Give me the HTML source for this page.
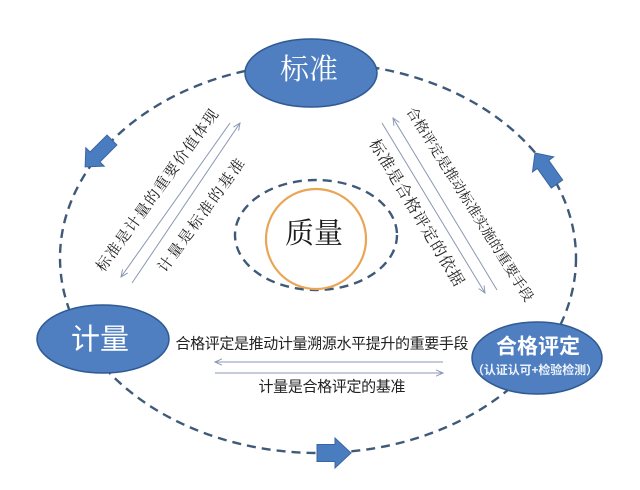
<!DOCTYPE html>
<html><head><meta charset="utf-8"><style>
html,body{margin:0;padding:0;background:#fff;}
svg{display:block;}
.serif{font-family:"Liberation Serif","Noto Serif CJK SC",serif;}
.sans{font-family:"Liberation Sans","Noto Sans CJK SC",sans-serif;}
</style></head><body>
<svg width="640" height="490" viewBox="0 0 640 490" xmlns="http://www.w3.org/2000/svg">
<defs>
<marker id="ah" viewBox="0 0 10 10" refX="9" refY="5" markerWidth="8" markerHeight="8" orient="auto-start-reverse" markerUnits="userSpaceOnUse">
<path d="M0,1 L9,5 L0,9" fill="none" stroke="#8a98b4" stroke-width="1.2"/>
</marker>
</defs>
<rect width="640" height="490" fill="#fff"/>
<!-- big dashed ellipse -->
<ellipse cx="318" cy="258" rx="258" ry="195" fill="none" stroke="#3f5a78" stroke-width="2.4" stroke-dasharray="9 6"/>
<!-- inner dashed ellipse -->
<ellipse cx="316" cy="235" rx="81" ry="55" fill="none" stroke="#3f5a78" stroke-width="2.4" stroke-dasharray="9 6"/>
<circle cx="316" cy="239" r="50" fill="#fff" stroke="#e9a555" stroke-width="2.2"/>
<text x="314" y="234" class="serif" font-size="29" text-anchor="middle" dominant-baseline="central" fill="#1a1a1a">质量</text>

<!-- left diagonal lines -->
<line x1="230" y1="123" x2="121" y2="277" stroke="#8a98b4" stroke-width="1" marker-end="url(#ah)"/>
<line x1="132" y1="283" x2="240" y2="123" stroke="#8a98b4" stroke-width="1" marker-end="url(#ah)"/>
<g transform="translate(158,191) rotate(-54)"><text x="0" y="0" class="serif" font-size="15" text-anchor="middle" dominant-baseline="central" fill="#222" textLength="196" lengthAdjust="spacing">标准是计量的重要价值体现</text></g>
<g transform="translate(202,216) rotate(-54)"><text x="0" y="0" class="serif" font-size="15" text-anchor="middle" dominant-baseline="central" fill="#222" textLength="136" lengthAdjust="spacing">计量是标准的基准</text></g>

<!-- right diagonal lines -->
<line x1="382" y1="123" x2="485" y2="293" stroke="#8a98b4" stroke-width="1" marker-end="url(#ah)"/>
<line x1="497" y1="290" x2="393" y2="118" stroke="#8a98b4" stroke-width="1" marker-end="url(#ah)"/>
<g transform="translate(469,205) rotate(58)"><text x="0" y="0" class="serif" font-size="14" text-anchor="middle" dominant-baseline="central" fill="#222" textLength="226" lengthAdjust="spacing">合格评定是推动标准实施的重要手段</text></g>
<g transform="translate(416,213) rotate(59)"><text x="0" y="0" class="serif" font-size="16" text-anchor="middle" dominant-baseline="central" fill="#222" textLength="168" lengthAdjust="spacing">标准是合格评定的依据</text></g>

<!-- horizontal -->
<text x="322" y="344" class="sans" font-size="15" text-anchor="middle" dominant-baseline="central" fill="#222" textLength="293" lengthAdjust="spacing">合格评定是推动计量溯源水平提升的重要手段</text>
<line x1="443" y1="362" x2="215" y2="362" stroke="#8a98b4" stroke-width="1" marker-end="url(#ah)"/>
<line x1="215" y1="373" x2="443" y2="373" stroke="#8a98b4" stroke-width="1" marker-end="url(#ah)"/>
<text x="332" y="387" class="sans" font-size="15" text-anchor="middle" dominant-baseline="central" fill="#222" textLength="147" lengthAdjust="spacing">计量是合格评定的基准</text>

<!-- nodes -->
<ellipse cx="311" cy="73" rx="66" ry="34" fill="#4f7fc0" stroke="#2f5a93" stroke-width="1.5"/>
<text x="309" y="70" class="serif" font-size="29" text-anchor="middle" dominant-baseline="central" fill="#fff">标准</text>

<ellipse cx="103" cy="339" rx="66" ry="34" fill="#4f7fc0" stroke="#2f5a93" stroke-width="1.5"/>
<text x="100" y="340" class="sans" font-size="29" text-anchor="middle" dominant-baseline="central" fill="#fff">计量</text>

<ellipse cx="537" cy="358" rx="65" ry="36" fill="#4f7fc0" stroke="#2f5a93" stroke-width="1.5"/>
<text x="538" y="347" class="sans" font-size="21" font-weight="bold" text-anchor="middle" dominant-baseline="central" fill="#fff">合格评定</text>
<text x="535" y="370" class="sans" font-size="12" font-weight="bold" text-anchor="middle" dominant-baseline="central" fill="#eef3fb" textLength="126" lengthAdjust="spacing">（认证认可+检验检测）</text>

<!-- block arrows -->
<g transform="translate(112,140) rotate(135)"><polygon points="0,-7 24,-7 24,-13 38,0 24,13 24,7 0,7" fill="#4a7cc0" stroke="#3a66a0" stroke-width="1"/></g>
<g transform="translate(557,184) rotate(234.6)"><polygon points="0,-7 24,-7 24,-13 38,0 24,13 24,7 0,7" fill="#4a7cc0" stroke="#3a66a0" stroke-width="1"/></g>
<g transform="translate(317,453)"><polygon points="0,-8.5 18,-8.5 18,-15 34,0 18,15 18,8.5 0,8.5" fill="#4a7cc0" stroke="#3a66a0" stroke-width="1"/></g>
</svg>
</body></html>
